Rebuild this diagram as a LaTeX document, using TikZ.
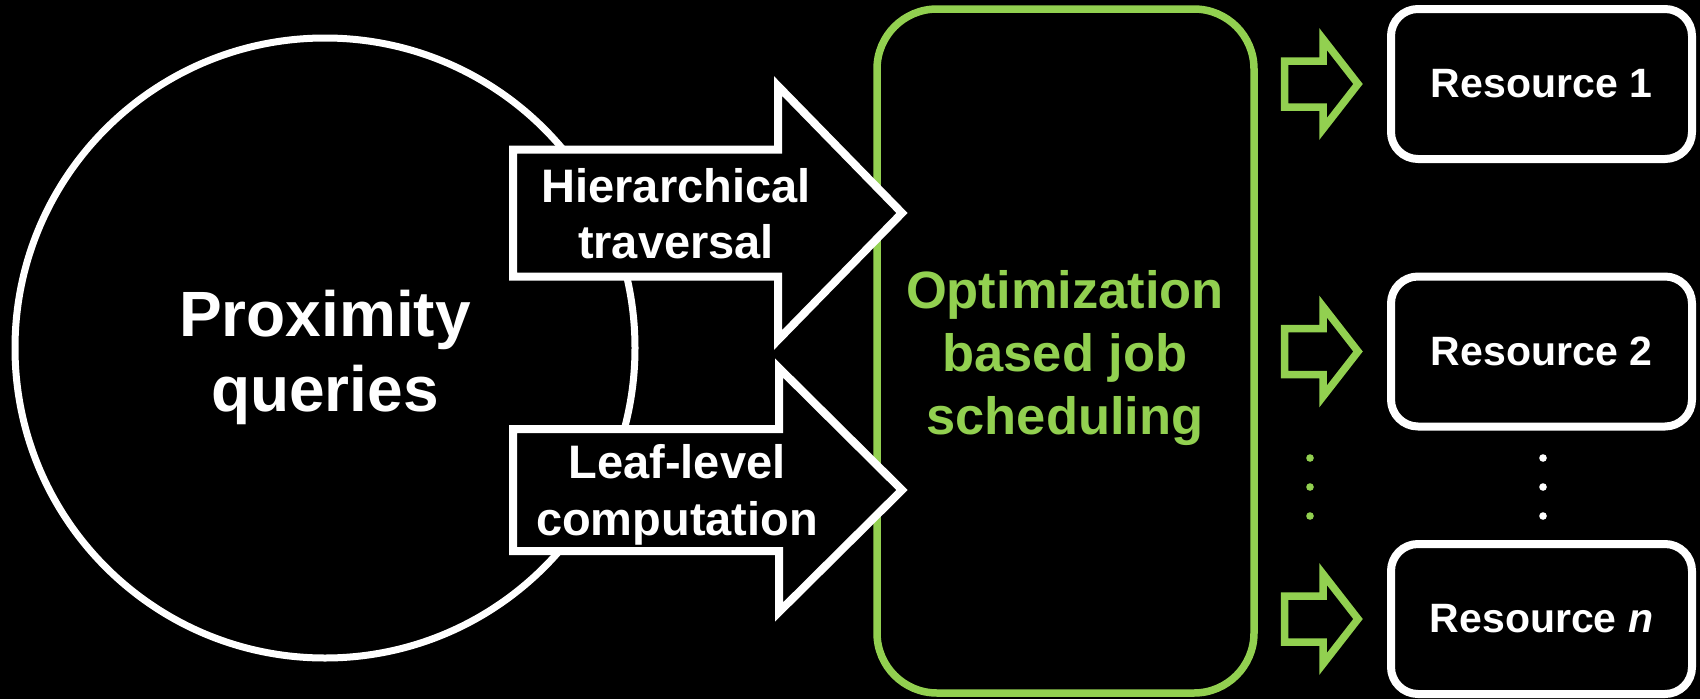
\documentclass[tikz,border=0pt]{standalone}
\usepackage{fontspec}
\setmainfont{Liberation Sans}
\definecolor{leaf}{HTML}{92D050}
\begin{document}
\begin{tikzpicture}[x=1pt,y=-1pt,
  txt/.style={inner sep=0pt, align=center, text=white},
  bigtxt/.style={txt, font=\fontsize{64}{75}\selectfont\bfseries},
  arrowtxt/.style={txt, font=\fontsize{47}{56.4}\selectfont\bfseries},
  greentxt/.style={txt, text=leaf, font=\fontsize{52.5}{63}\selectfont\bfseries},
  restxt/.style={font=\fontsize{41}{49}\selectfont\bfseries},
  bigarrow/.style={draw=white, fill=black, line width=8pt, line join=miter},
  smallarrow/.style={draw=leaf, line width=7.5pt, line join=miter},
  resbox/.style={draw=white, fill=black, text=white, line width=8pt,
    rounded corners=27pt, minimum width=301pt, minimum height=150pt,
    inner sep=0pt, restxt},
  dot/.style={circle, inner sep=0pt, minimum size=7.6pt}]

% canvas
\fill[black] (0,0) rectangle (1700,699);
\useasboundingbox (0,0) rectangle (1700,699);

% query source
\node[circle, draw=white, fill=black, line width=7pt, minimum size=620pt,
  inner sep=0pt] (prox) at (325,348) {};
\node[bigtxt] (proxtext) at (325,357.5) {Proximity\\queries};

% scheduler
\node[draw=leaf, fill=black, line width=7.5pt, rounded corners=60pt,
  minimum width=377pt, minimum height=684pt, inner sep=0pt] (sched) at (1065.5,351) {};
\node[greentxt] (schedtext) at (1065,358.5) {Optimization\\based job\\scheduling};

% block arrows from the queries into the scheduler
\coordinate (a1) at (513,213);
\coordinate (a2) at (513,490);
\draw[bigarrow] (a1) ++(0,-63.5) -- ++(265,0) -- ++(0,-63.5) -- ++(124,127)
  -- ++(-124,127) -- ++(0,-63.5) -- ++(-265,0) -- cycle;
\node[arrowtxt] (hier) at (676,213.5) {Hierarchical\\traversal};
\draw[bigarrow] (a2) ++(0,-61) -- ++(266,0) -- ++(0,-61) -- ++(123,122)
  -- ++(-123,122) -- ++(0,-61) -- ++(-266,0) -- cycle;
\node[arrowtxt] (leaf) at (677,495) {Leaf-level\\computation};

% resources
\node[resbox] (r1) at (1541.5,84) {Resource 1};
\node[resbox] (r2) at (1541.5,351.5) {Resource 2};
\node[resbox] (rn) at (1541.5,619) {Resource \textit{n}};

% dispatch arrows
\foreach \s/\y in {s1/84, s2/351.5, sn/619} {
  \coordinate (\s) at (1284.5,\y);
  \draw[smallarrow] (\s) ++(0,-23) -- ++(38.5,0) -- ++(0,-22) -- ++(35,45)
    -- ++(-35,45) -- ++(0,-22) -- ++(-38.5,0) -- cycle;
}

% ellipsis dots
\foreach \i/\y in {1/458, 2/487, 3/516} {
  \node[dot, fill=leaf] (gd\i) at (1310,\y) {};
  \node[dot, fill=white] (wd\i) at (1543,\y) {};
}
\end{tikzpicture}
\end{document}
